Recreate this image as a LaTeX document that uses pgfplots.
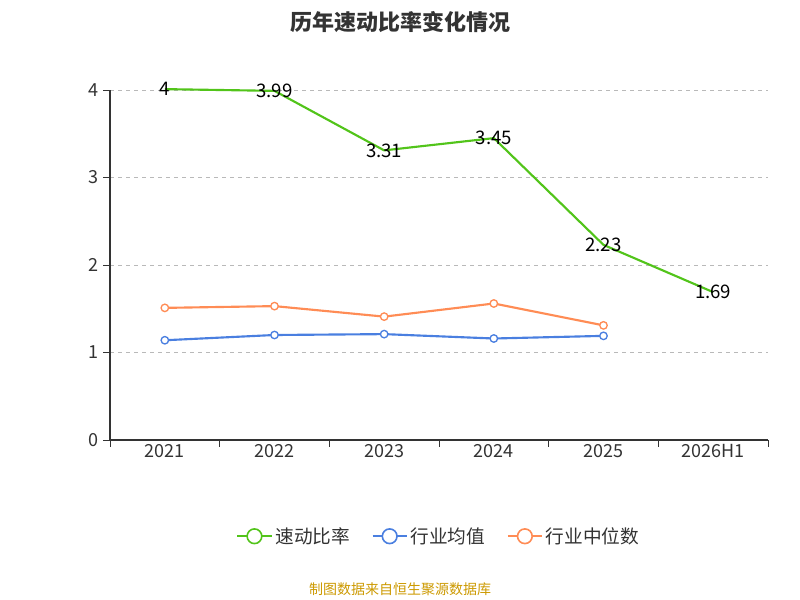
\documentclass[border=0pt]{standalone}
\usepackage{pgfplots}
\pgfplotsset{compat=1.18}
\usepackage{fontspec}
\setmainfont{Noto Sans CJK SC}
\definecolor{cg}{HTML}{52C41A}
\definecolor{cb}{HTML}{4A7FE0}
\definecolor{co}{HTML}{FF8C55}
\definecolor{ax}{HTML}{333333}
\begin{document}
\begin{tikzpicture}
\useasboundingbox (0,0) rectangle (600pt,450pt);
\node[font=\bfseries\fontsize{16.5}{19}\selectfont,text=ax] at (300pt,433.5pt) {历年速动比率变化情况};
\node[font=\fontsize{10.5}{12}\selectfont,text={rgb,255:red,204;green,153;blue,0}] at (300pt,8pt) {制图数据来自恒生聚源数据库};
\begin{axis}[at={(82.5pt,120pt)},anchor=south west,
 scale only axis,width=493.5pt,height=262.5pt,
 xmin=-0.5,xmax=5.5,ymin=0,ymax=4,
 xtick={-0.5,0.5,...,5.5},xticklabels={},
 extra x ticks={0,...,5},extra x tick labels={2021,2022,2023,2024,2025,2026H1},
 extra x tick style={major tick length=0pt,grid=none},
 ytick={0,1,2,3,4},
 tick style={ax,thin},major tick length=5pt,
 tick align=outside,
 axis x line*=bottom,axis y line*=left,
 axis line style={ax,thick,-},
 ymajorgrids,grid style={dashed,gray!55,thin},
 tick label style={font=\fontsize{13.5}{16}\selectfont,text=ax},
 /pgf/number format/assume math mode=true,
 legend style={at={(0.5,-0.275)},anchor=center,draw=none,legend columns=3,
   font=\fontsize{14}{16}\selectfont,text=ax,/tikz/every even column/.append style={column sep=14pt}},
 clip=false]
\addplot[cg,line width=1.6pt,
 legend image code/.code={\draw[cg,line width=1.8pt](0,0)--(0.9cm,0);\draw[cg,fill=white,line width=1.2pt](0.45cm,0)circle(5.5pt);},
 nodes near coords,point meta=explicit symbolic,
 every node near coord/.append style={anchor=center,font=\fontsize{14}{16}\selectfont,text=black}]
 coordinates {(0,4.01)[4] (1,3.99)[3.99] (2,3.31)[3.31] (3,3.45)[3.45] (4,2.23)[2.23] (5,1.69)[1.69]};
\addlegendentry{速动比率}
\addplot[cb,line width=1.6pt,mark=*,mark options={fill=white,line width=1pt},mark size=2.8pt,
 legend image code/.code={\draw[cb,line width=1.8pt](0,0)--(0.9cm,0);\draw[cb,fill=white,line width=1.2pt](0.45cm,0)circle(5.5pt);}]
 coordinates {(0,1.14) (1,1.20) (2,1.21) (3,1.16) (4,1.19)};
\addlegendentry{行业均值}
\addplot[co,line width=1.6pt,mark=*,mark options={fill=white,line width=1pt},mark size=2.8pt,
 legend image code/.code={\draw[co,line width=1.8pt](0,0)--(0.9cm,0);\draw[co,fill=white,line width=1.2pt](0.45cm,0)circle(5.5pt);}]
 coordinates {(0,1.51) (1,1.53) (2,1.41) (3,1.56) (4,1.31)};
\addlegendentry{行业中位数}
\end{axis}
\end{tikzpicture}
\end{document}
